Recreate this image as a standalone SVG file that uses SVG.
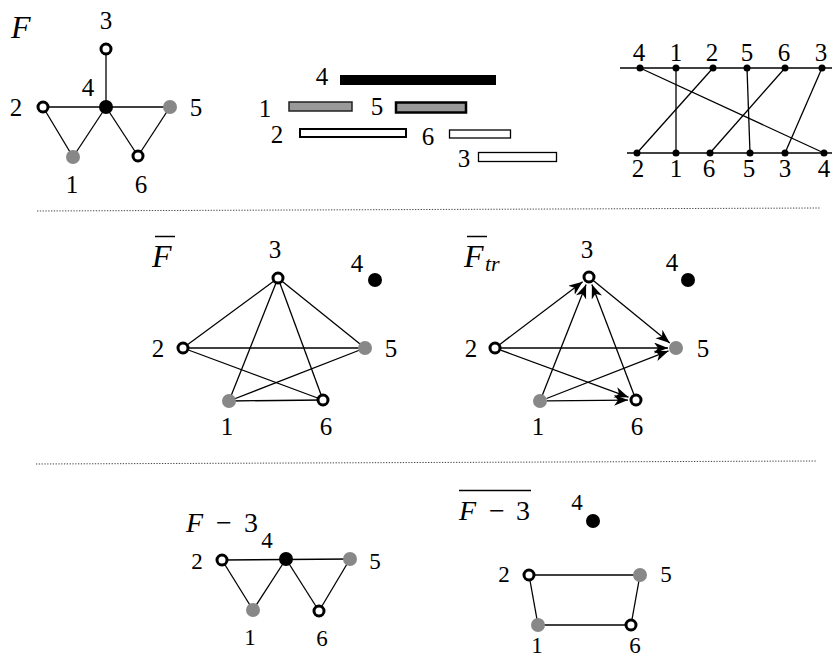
<svg xmlns="http://www.w3.org/2000/svg" width="837" height="659" viewBox="0 0 837 659" font-family="'Liberation Serif', 'Times New Roman', 'DejaVu Serif', serif">
<style>
text{font-family:"Liberation Serif","Times New Roman","DejaVu Serif",serif;fill:#000}
.lb{font-size:25px;text-anchor:middle}
.lbs{font-size:23px;text-anchor:middle}
.it{font-style:italic}
.e{stroke:#000;stroke-width:1.3;fill:none}
.a{stroke:#000;stroke-width:1.3;fill:none;marker-end:url(#arr)}
.o{fill:#fff;stroke:#000;stroke-width:3}
.g{fill:#888}
.b{fill:#000}
.sep{stroke:#444;stroke-width:1;stroke-dasharray:1.3 1.5}
</style>
<defs>
<marker id="arr" markerUnits="userSpaceOnUse" markerWidth="16" markerHeight="12" refX="14" refY="5.5" orient="auto">
<path d="M0,0 L14,5.5 L0,11 L4,5.5 z" fill="#000"/>
</marker>
</defs>
<rect width="837" height="659" fill="#fff"/>

<!-- Graph F -->
<g id="graphF">
<text x="11" y="38" font-size="32" class="it">F</text>
<g id="F-edges">
<line class="e" x1="106" y1="49" x2="106" y2="107"/>
<line class="e" x1="43" y1="107" x2="170" y2="107"/>
<line class="e" x1="43" y1="107" x2="73" y2="157"/>
<line class="e" x1="73" y1="157" x2="106" y2="107"/>
<line class="e" x1="106" y1="107" x2="138" y2="156"/>
<line class="e" x1="138" y1="156" x2="170" y2="107"/>
</g>
<g id="F-n3"><circle class="o" cx="106" cy="49" r="5"/><text class="lb" x="106" y="29">3</text></g>
<g id="F-n4"><circle class="b" cx="106" cy="107" r="7"/><text class="lb" x="88" y="96">4</text></g>
<g id="F-n2"><circle class="o" cx="43" cy="107" r="5"/><text class="lb" x="16" y="116">2</text></g>
<g id="F-n5"><circle class="g" cx="170" cy="107" r="7"/><text class="lb" x="196" y="116">5</text></g>
<g id="F-n1"><circle class="g" cx="73" cy="157" r="7"/><text class="lb" x="72" y="193">1</text></g>
<g id="F-n6"><circle class="o" cx="138" cy="156" r="5"/><text class="lb" x="141" y="193">6</text></g>
</g>

<!-- Interval representation -->
<g id="intervals">
<g id="iv4"><rect x="340" y="75" width="156" height="10" fill="#000"/><text class="lb" font-size="26" x="322" y="85">4</text></g>
<g id="iv1"><rect x="289" y="102" width="63" height="9" fill="#999" stroke="#222" stroke-width="1.5"/><text class="lb" x="265" y="117" font-size="26">1</text></g>
<g id="iv5"><rect x="396" y="102.5" width="70" height="10" fill="#999" stroke="#000" stroke-width="2.5"/><text class="lb" x="377" y="115" font-size="26">5</text></g>
<g id="iv2"><rect x="300" y="129" width="106" height="8" fill="#fff" stroke="#000" stroke-width="2"/><text class="lb" x="277" y="143" font-size="26">2</text></g>
<g id="iv6"><rect x="449.5" y="130" width="61" height="8" fill="#fff" stroke="#000" stroke-width="1.3"/><text class="lb" x="428" y="145" font-size="26">6</text></g>
<g id="iv3"><rect x="478.5" y="152.5" width="78" height="9" fill="#fff" stroke="#000" stroke-width="1.3"/><text class="lb" x="464" y="167" font-size="26">3</text></g>
</g>

<!-- Permutation diagram -->
<g id="permutation">
<line class="e" x1="620" y1="68" x2="832" y2="68"/>
<line class="e" x1="627" y1="153" x2="832" y2="153"/>
<g id="perm-lines">
<line class="e" x1="640" y1="68" x2="824" y2="153"/>
<line class="e" x1="676" y1="68" x2="676" y2="153"/>
<line class="e" x1="713" y1="68" x2="637" y2="153"/>
<line class="e" x1="747" y1="68" x2="750" y2="153"/>
<line class="e" x1="785" y1="68" x2="710" y2="153"/>
<line class="e" x1="822" y1="68" x2="785" y2="153"/>
</g>
<g id="perm-top">
<circle cx="640" cy="68" r="3.5"/><circle cx="676" cy="68" r="3.5"/><circle cx="713" cy="68" r="3.5"/>
<circle cx="747" cy="68" r="3.5"/><circle cx="785" cy="68" r="3.5"/><circle cx="822" cy="68" r="3.5"/>
<text class="lb" x="639" y="61">4</text><text class="lb" x="676" y="61">1</text><text class="lb" x="712" y="61">2</text>
<text class="lb" x="747" y="61">5</text><text class="lb" x="784" y="61">6</text><text class="lb" x="821" y="61">3</text>
</g>
<g id="perm-bottom">
<circle cx="637" cy="153" r="3.5"/><circle cx="676" cy="153" r="3.5"/><circle cx="710" cy="153" r="3.5"/>
<circle cx="750" cy="153" r="3.5"/><circle cx="785" cy="153" r="3.5"/><circle cx="824" cy="153" r="3.5"/>
<text class="lb" x="638" y="177">2</text><text class="lb" x="676" y="177">1</text><text class="lb" x="709" y="177">6</text>
<text class="lb" x="749" y="177">5</text><text class="lb" x="785" y="177">3</text><text class="lb" x="824" y="177">4</text>
</g>
</g>

<!-- separators -->
<line class="sep" x1="37" y1="211" x2="820" y2="208"/>
<line class="sep" x1="36" y1="464" x2="817" y2="461"/>

<!-- Complement graph -->
<g id="graphFbar">
<text x="152" y="267" font-size="32" class="it">F</text>
<line x1="155" y1="236.5" x2="175" y2="236.5" stroke="#000" stroke-width="1.5"/>
<g id="Fbar-edges">
<line class="e" x1="278" y1="278" x2="183" y2="348"/>
<line class="e" x1="278" y1="278" x2="365" y2="348"/>
<line class="e" x1="278" y1="278" x2="229" y2="401"/>
<line class="e" x1="278" y1="278" x2="323" y2="400"/>
<line class="e" x1="183" y1="348" x2="365" y2="348"/>
<line class="e" x1="183" y1="348" x2="323" y2="400"/>
<line class="e" x1="229" y1="401" x2="365" y2="348"/>
<line class="e" x1="229" y1="401" x2="323" y2="400"/>
</g>
<g id="Fbar-n3"><circle class="o" cx="278" cy="278" r="5"/><text class="lb" x="275" y="258">3</text></g>
<g id="Fbar-n4"><circle class="b" cx="375" cy="280" r="7"/><text class="lb" x="357" y="272">4</text></g>
<g id="Fbar-n2"><circle class="o" cx="183" cy="348" r="5"/><text class="lb" x="158" y="357">2</text></g>
<g id="Fbar-n5"><circle class="g" cx="365" cy="348" r="7"/><text class="lb" x="391" y="357">5</text></g>
<g id="Fbar-n1"><circle class="g" cx="229" cy="401" r="7"/><text class="lb" x="227" y="435">1</text></g>
<g id="Fbar-n6"><circle class="o" cx="323" cy="400" r="5"/><text class="lb" x="326" y="435">6</text></g>
</g>

<!-- Transitive orientation -->
<g id="graphFtr">
<text x="464" y="267" font-size="32" class="it">F</text>
<text x="485" y="271" font-size="22" class="it">tr</text>
<line x1="467" y1="236.5" x2="487" y2="236.5" stroke="#000" stroke-width="1.5"/>
<g id="Ftr-edges">
<line class="a" x1="499.8" y1="344.4" x2="582.6" y2="281.8"/>
<line class="a" x1="542.2" y1="395.4" x2="586.1" y2="284.4"/>
<line class="a" x1="633.9" y1="394.4" x2="591.9" y2="284.5"/>
<line class="a" x1="593.6" y1="280.8" x2="669.8" y2="342.9"/>
<line class="a" x1="501" y1="348" x2="668" y2="348"/>
<line class="a" x1="546.5" y1="398.5" x2="668.5" y2="350.9"/>
<line class="a" x1="500.6" y1="350.1" x2="628.5" y2="397.2"/>
<line class="a" x1="547" y1="400.9" x2="628" y2="400.1"/>
</g>
<g id="Ftr-n3"><circle class="o" cx="589" cy="277" r="5"/><text class="lb" x="587" y="258">3</text></g>
<g id="Ftr-n4"><circle class="b" cx="688" cy="280" r="7"/><text class="lb" x="672" y="271">4</text></g>
<g id="Ftr-n2"><circle class="o" cx="495" cy="348" r="5"/><text class="lb" x="471" y="357">2</text></g>
<g id="Ftr-n5"><circle class="g" cx="676" cy="348" r="7"/><text class="lb" x="703" y="357">5</text></g>
<g id="Ftr-n1"><circle class="g" cx="540" cy="401" r="7"/><text class="lb" x="538" y="435">1</text></g>
<g id="Ftr-n6"><circle class="o" cx="636" cy="400" r="5"/><text class="lb" x="637" y="435">6</text></g>
</g>

<!-- F - 3 -->
<g id="graphFminus3">
<text x="186" y="532" font-size="28" class="it">F</text>
<text x="216" y="532" font-size="28">−</text>
<text x="244" y="532" font-size="28">3</text>
<g id="Fm3-edges">
<line class="e" x1="222" y1="560" x2="350" y2="559"/>
<line class="e" x1="222" y1="560" x2="253" y2="610"/>
<line class="e" x1="253" y1="610" x2="286" y2="559"/>
<line class="e" x1="286" y1="559" x2="319" y2="611"/>
<line class="e" x1="319" y1="611" x2="350" y2="559"/>
</g>
<g id="Fm3-n2"><circle class="o" cx="222" cy="560" r="5"/><text class="lbs" x="197" y="569">2</text></g>
<g id="Fm3-n4"><circle class="b" cx="286" cy="559" r="7"/><text class="lbs" x="267" y="548">4</text></g>
<g id="Fm3-n5"><circle class="g" cx="350" cy="559" r="7"/><text class="lbs" x="375" y="569">5</text></g>
<g id="Fm3-n1"><circle class="g" cx="253" cy="610" r="7"/><text class="lbs" x="250" y="645">1</text></g>
<g id="Fm3-n6"><circle class="o" cx="319" cy="611" r="5"/><text class="lbs" x="322" y="646">6</text></g>
</g>

<!-- complement of F - 3 -->
<g id="graphFminus3bar">
<line x1="459" y1="490.5" x2="531" y2="490.5" stroke="#000" stroke-width="1.5"/>
<text x="459" y="520" font-size="28" class="it">F</text>
<text x="489" y="520" font-size="28">−</text>
<text x="516" y="520" font-size="28">3</text>
<g id="Fm3bar-edges">
<line class="e" x1="529" y1="575" x2="640" y2="575"/>
<line class="e" x1="529" y1="575" x2="538" y2="625"/>
<line class="e" x1="538" y1="625" x2="631" y2="625"/>
<line class="e" x1="631" y1="625" x2="640" y2="575"/>
</g>
<g id="Fm3bar-n4"><circle class="b" cx="593" cy="521" r="7"/><text class="lbs" x="577" y="510">4</text></g>
<g id="Fm3bar-n2"><circle class="o" cx="529" cy="575" r="5"/><text class="lbs" x="504" y="582">2</text></g>
<g id="Fm3bar-n5"><circle class="g" cx="640" cy="575" r="7"/><text class="lbs" x="666" y="582">5</text></g>
<g id="Fm3bar-n1"><circle class="g" cx="538" cy="625" r="7"/><text class="lbs" x="537" y="653" font-size="21">1</text></g>
<g id="Fm3bar-n6"><circle class="o" cx="631" cy="625" r="5"/><text class="lbs" x="635" y="653" font-size="21">6</text></g>
</g>
</svg>
